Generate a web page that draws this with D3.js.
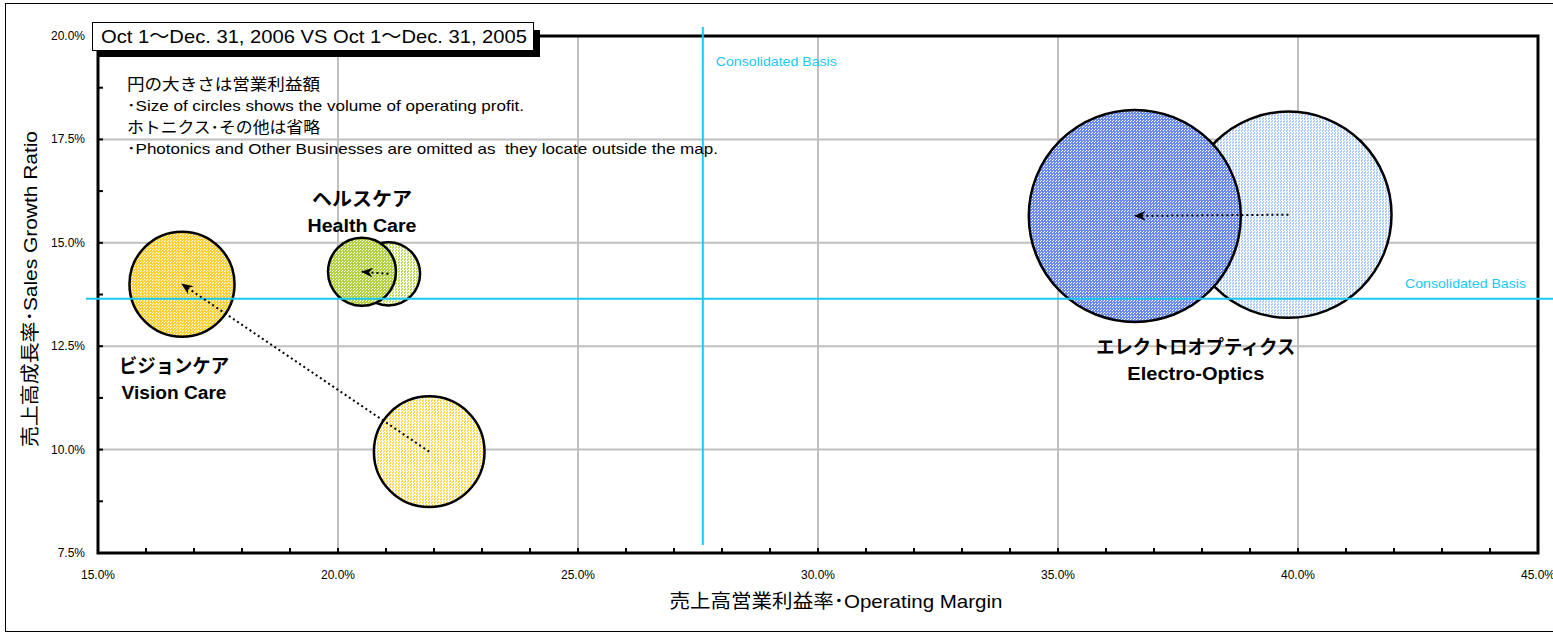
<!DOCTYPE html>
<html>
<head>
<meta charset="utf-8">
<script src="https://cdn.jsdelivr.net/npm/d3@7"></script>
<style>
  body { margin: 0; background: #fff; }
  svg text { font-family: "Liberation Sans", "Noto Sans CJK JP", sans-serif; }
  .tick-label { font-family: "Liberation Sans Narrow", "Liberation Sans", sans-serif !important; font-size: 12px; }
</style>
</head>
<body>
<svg id="chart" width="1553" height="633"></svg>
<script>
// segments, 2006 (Oct-Dec) vs 2005 (Oct-Dec)
var segments = ["Electro-Optics", "Vision Care", "Health Care"]
var segmentsJa = ["エレクトロオプティクス", "ビジョンケア", "ヘルスケア"]
var margin2005 = [39.8, 21.9, 21.05]
var growth2005 = [15.68, 9.95, 14.25]
var profit2005 = [21.2, 6.1, 2.0]
var margin2006 = [36.6, 16.75, 20.5]
var growth2006 = [15.65, 14.0, 14.3]
var profit2006 = [22.4, 5.5, 2.3]
var xTicks = [15, 20, 25, 30, 35, 40, 45]
var yTicks = [7.5, 10, 12.5, 15, 17.5, 20]
var consolidatedMargin = 27.6
var consolidatedGrowth = 13.65

var svg = d3.select("#chart")

var plot = { left: 98, right: 1538, top: 36, bottom: 553 }

var x = d3.scaleLinear().domain([15, 45]).range([plot.left, plot.right])
var y = d3.scaleLinear().domain([7.5, 20]).range([plot.bottom, plot.top])
var r = d3.scaleSqrt().domain([0, d3.max(profit2006.concat(profit2005))]).range([0, 106])

// dotted fills per segment: dark = 2006, light = 2005
var colors = [
  { dark: "#6a8af2", light: "#a8caff" },
  { dark: "#fbd038", light: "#ffd84a" },
  { dark: "#b2d244", light: "#bcdc58" }
]

var defs = svg.append("defs")

colors.forEach(function (c, i) {
  var pd = defs.append("pattern").attr("id", "dark" + i)
    .attr("patternUnits", "userSpaceOnUse").attr("width", 3).attr("height", 3)
  pd.append("rect").attr("width", 3).attr("height", 3).attr("fill", c.dark)
  pd.append("rect").attr("x", 0).attr("y", 0).attr("width", 1).attr("height", 1).attr("fill", "#fff")
  pd.append("rect").attr("x", 2).attr("y", 1).attr("width", 1).attr("height", 1).attr("fill", "#fff")

  var pl = defs.append("pattern").attr("id", "light" + i)
    .attr("patternUnits", "userSpaceOnUse").attr("width", 3).attr("height", 3)
  pl.append("rect").attr("width", 3).attr("height", 3).attr("fill", "#fff")
  pl.append("rect").attr("x", 0).attr("y", 0).attr("width", 1).attr("height", 2).attr("fill", c.light)
  pl.append("rect").attr("x", 2).attr("y", 1).attr("width", 1).attr("height", 2).attr("fill", c.light)
})

defs.append("marker").attr("id", "arrow")
  .attr("markerUnits", "userSpaceOnUse")
  .attr("viewBox", "0 0 12 10").attr("refX", 11).attr("refY", 5)
  .attr("markerWidth", 12).attr("markerHeight", 10)
  .attr("orient", "auto")
  .append("path").attr("d", "M0,0 L12,5 L0,10 L4,5 Z").attr("fill", "#000")

// outer frame
svg.append("rect").attr("x", 5.5).attr("y", 3.5).attr("width", 1560).attr("height", 628)
  .attr("fill", "none").attr("stroke", "#000").attr("stroke-width", 1)

// gridlines
svg.append("g").selectAll("line").data(xTicks.slice(1, -1)).join("line")
  .attr("x1", d => x(d)).attr("x2", d => x(d))
  .attr("y1", plot.top).attr("y2", plot.bottom)
  .attr("stroke", "#c0c0c0").attr("stroke-width", 2)

svg.append("g").selectAll("line").data(yTicks.slice(1, -1)).join("line")
  .attr("x1", plot.left).attr("x2", plot.right)
  .attr("y1", d => y(d)).attr("y2", d => y(d))
  .attr("stroke", "#c0c0c0").attr("stroke-width", 2)

// minor ticks (inside)
var xMinor = d3.range(15, 45.01, 1)
var yMinor = d3.range(7.5, 20.01, 1.25)

svg.append("g").selectAll("line").data(xMinor).join("line")
  .attr("x1", d => x(d)).attr("x2", d => x(d))
  .attr("y1", plot.bottom).attr("y2", plot.bottom - 5)
  .attr("stroke", "#000").attr("stroke-width", 2)

svg.append("g").selectAll("line").data(yMinor).join("line")
  .attr("x1", plot.left).attr("x2", plot.left + 5)
  .attr("y1", d => y(d)).attr("y2", d => y(d))
  .attr("stroke", "#000").attr("stroke-width", 2)

// plot frame
svg.append("rect")
  .attr("x", plot.left).attr("y", plot.top)
  .attr("width", plot.right - plot.left).attr("height", plot.bottom - plot.top)
  .attr("fill", "none").attr("stroke", "#000").attr("stroke-width", 3)

// tick labels
svg.append("g").selectAll("text").data(xTicks).join("text")
  .attr("class", "tick-label")
  .attr("x", d => x(d)).attr("y", plot.bottom + 26)
  .attr("text-anchor", "middle")
  .text(d => d.toFixed(1) + "%")

svg.append("g").selectAll("text").data(yTicks).join("text")
  .attr("class", "tick-label")
  .attr("x", plot.left - 13).attr("y", d => y(d) + 4)
  .attr("text-anchor", "end")
  .text(d => d.toFixed(1) + "%")

// bubbles: 2005 behind, 2006 on top
var bubbles = svg.append("g")

segments.forEach(function (s, i) {
  bubbles.append("circle")
    .attr("cx", x(margin2005[i])).attr("cy", y(growth2005[i]))
    .attr("r", r(profit2005[i]))
    .attr("fill", "url(#light" + i + ")")
    .attr("stroke", "#000").attr("stroke-width", 2.5)
  bubbles.append("circle")
    .attr("cx", x(margin2006[i])).attr("cy", y(growth2006[i]))
    .attr("r", r(profit2006[i]))
    .attr("fill", "url(#dark" + i + ")")
    .attr("stroke", "#000").attr("stroke-width", 2.5)
})

// consolidated basis lines
svg.append("line")
  .attr("x1", x(consolidatedMargin)).attr("x2", x(consolidatedMargin))
  .attr("y1", 27).attr("y2", 545)
  .attr("stroke", "#19c8f5").attr("stroke-width", 2)
svg.append("line")
  .attr("x1", 86).attr("x2", 1553)
  .attr("y1", y(consolidatedGrowth)).attr("y2", y(consolidatedGrowth))
  .attr("stroke", "#19c8f5").attr("stroke-width", 2)

svg.append("text").attr("x", x(consolidatedMargin) + 13).attr("y", 66)
  .attr("font-size", 13.5).attr("fill", "#19c8f5")
  .attr("textLength", 121).attr("lengthAdjust", "spacingAndGlyphs")
  .text("Consolidated Basis")
svg.append("text").attr("x", 1405).attr("y", y(consolidatedGrowth) - 11)
  .attr("font-size", 13.5).attr("fill", "#19c8f5")
  .attr("textLength", 121).attr("lengthAdjust", "spacingAndGlyphs")
  .text("Consolidated Basis")

// arrows old -> new
segments.forEach(function (s, i) {
  svg.append("line")
    .attr("x1", x(margin2005[i])).attr("y1", y(growth2005[i]))
    .attr("x2", x(margin2006[i])).attr("y2", y(growth2006[i]))
    .attr("stroke", "#000").attr("stroke-width", 2)
    .attr("stroke-dasharray", "2,3")
    .attr("marker-end", "url(#arrow)")
})

// segment labels, offset from the 2006 bubble
var labelOffset = [[61, 131], [-8, 82], [0, -73]]
var labelWidth = [[199, 137], [110, 105], [100, 109]]
segments.forEach(function (s, i) {
  var cx = x(margin2006[i]) + labelOffset[i][0]
  var cy = y(growth2006[i]) + labelOffset[i][1]
  svg.append("text").attr("x", cx).attr("y", cy + 7)
    .attr("text-anchor", "middle").attr("font-size", 19).attr("font-weight", "bold")
    .attr("textLength", labelWidth[i][0]).attr("lengthAdjust", "spacingAndGlyphs")
    .text(segmentsJa[i])
  svg.append("text").attr("x", cx).attr("y", cy + 33)
    .attr("text-anchor", "middle").attr("font-size", 18)
    .attr("font-weight", "bold")
    .attr("textLength", labelWidth[i][1]).attr("lengthAdjust", "spacingAndGlyphs")
    .text(s)
})

// title box with shadow
svg.append("rect").attr("x", 99).attr("y", 30).attr("width", 441).attr("height", 27).attr("fill", "#000")
svg.append("rect").attr("x", 92.5).attr("y", 22.5).attr("width", 441).attr("height", 28)
  .attr("fill", "#fff").attr("stroke", "#000").attr("stroke-width", 1)
svg.append("text").attr("x", 101).attr("y", 43).attr("font-size", 19)
  .attr("textLength", 426).attr("lengthAdjust", "spacingAndGlyphs")
  .text("Oct 1～Dec. 31, 2006 VS Oct 1～Dec. 31, 2005")

// notes
var notes = [
  { t: "円の大きさは営業利益額", s: 16, y: 90, w: 193 },
  { t: "･Size of circles shows the volume of operating profit.", s: 14.5, y: 111, w: 397 },
  { t: "ホトニクス･その他は省略", s: 16, y: 133, w: 193 },
  { t: "･Photonics and Other Businesses are omitted as  they locate outside the map.", s: 14.5, y: 154, w: 591 }
]
svg.append("g").selectAll("text").data(notes).join("text")
  .attr("x", 127).attr("y", d => d.y).attr("font-size", d => d.s)
  .attr("textLength", d => d.w).attr("lengthAdjust", "spacingAndGlyphs")
  .style("white-space", "pre")
  .text(d => d.t)

// axis titles
svg.append("text").attr("x", 836).attr("y", 608)
  .attr("text-anchor", "middle").attr("font-size", 19)
  .attr("textLength", 333).attr("lengthAdjust", "spacingAndGlyphs")
  .text("売上高営業利益率･Operating Margin")
svg.append("text")
  .attr("transform", "translate(37,289) rotate(-90)")
  .attr("text-anchor", "middle").attr("font-size", 19)
  .attr("textLength", 316).attr("lengthAdjust", "spacingAndGlyphs")
  .text("売上高成長率･Sales Growth Ratio")
</script>
</body>
</html>
